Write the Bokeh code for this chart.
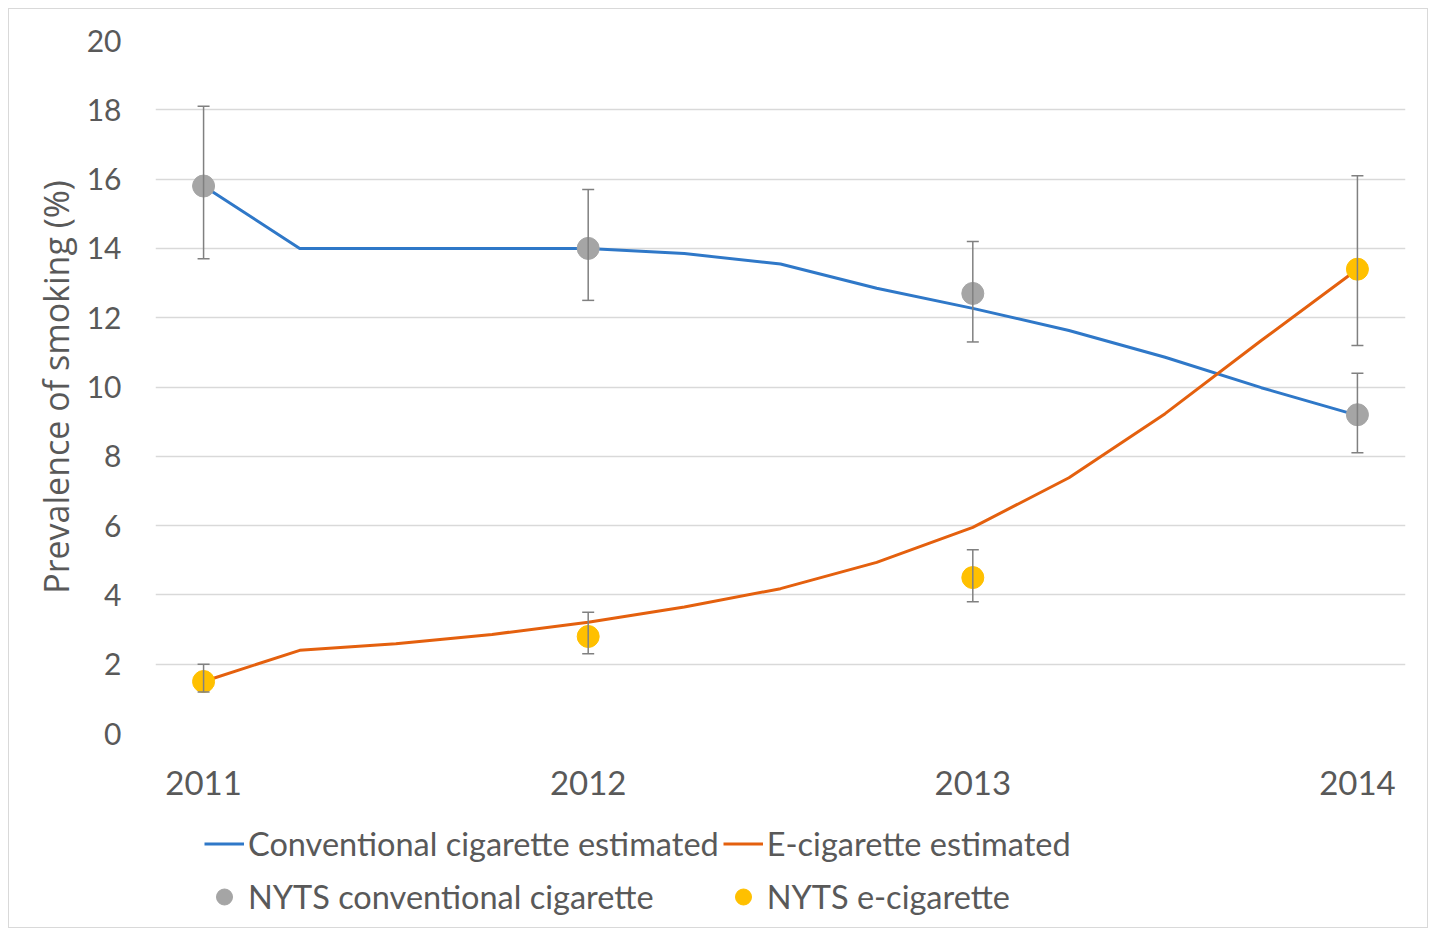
from bokeh.plotting import figure
from bokeh.layouts import column
from bokeh.models import (ColumnDataSource, Whisker, Legend, LegendItem, FixedTicker, TeeHead)
from bokeh.embed import file_html
from bokeh.resources import INLINE

# ---- data ----
years = [2011, 2012, 2013, 2014]
est_time = [2011.0, 2011.25, 2011.5, 2011.75, 2012.0, 2012.25, 2012.5, 2012.75,
            2013.0, 2013.25, 2013.5, 2013.75, 2014.0]
conv_est = [15.8, 14.0, 14.0, 14.0, 14.0, 13.85, 13.55, 12.85, 12.27, 11.63, 10.86, 9.98, 9.18]
ecig_est = [1.5, 2.4, 2.59, 2.86, 3.21, 3.65, 4.18, 4.94, 5.95, 7.38, 9.23, 11.34, 13.4]

nyts_conv = [15.8, 14.0, 12.7, 9.2]
nyts_conv_lo = [13.7, 12.5, 11.3, 8.1]
nyts_conv_hi = [18.1, 15.7, 14.2, 10.4]

nyts_ecig = [1.5, 2.8, 4.5, 13.4]
nyts_ecig_lo = [1.2, 2.3, 3.8, 11.2]
nyts_ecig_hi = [2.0, 3.5, 5.3, 16.1]

y_ticks = [0, 2, 4, 6, 8, 10, 12, 14, 16, 18, 20]

labels = ["Conventional cigarette estimated", "E-cigarette estimated",
          "NYTS conventional cigarette", "NYTS e-cigarette"]

TXT = "#595959"
TICK_FONT = "Lato"
C_CONV = "#2F78C8"
C_ECIG = "#E4600E"
C_PCONV = "#A5A5A5"
C_PECIG = "#FFC000"

# ---------------- main chart ----------------
p = figure(width=1418, height=810, output_backend="svg", toolbar_location=None,
           x_range=(2010.875, 2014.125), y_range=(0, 20),
           min_border_left=146, min_border_right=22, min_border_top=31, min_border_bottom=86)
p.background_fill_color = "white"
p.border_fill_color = "white"
p.outline_line_color = None

p.xgrid.visible = False
p.ygrid.grid_line_color = "#D9D9D9"
p.ygrid.grid_line_width = 1.3
p.ygrid.ticker = FixedTicker(ticks=y_ticks)

p.xaxis.ticker = FixedTicker(ticks=years)
p.xaxis.axis_line_color = None
p.xaxis.major_tick_line_color = None
p.xaxis.minor_tick_line_color = None
p.xaxis.major_label_text_font = TICK_FONT
p.xaxis.major_label_text_font_size = "33px"
p.xaxis.major_label_text_color = TXT
p.xaxis.major_label_standoff = 31

p.yaxis.ticker = FixedTicker(ticks=y_ticks)
p.yaxis.axis_line_color = None
p.yaxis.major_tick_line_color = None
p.yaxis.minor_tick_line_color = None
p.yaxis.major_label_text_font = TICK_FONT
p.yaxis.major_label_text_font_size = "30px"
p.yaxis.major_label_text_color = TXT
p.yaxis.major_label_standoff = 28
p.yaxis.axis_label = "Prevalence of smoking (%)"
p.yaxis.axis_label_text_font = "Open Sans"
p.yaxis.axis_label_text_font_size = "34px"
p.yaxis.axis_label_text_font_style = "normal"
p.yaxis.axis_label_text_color = TXT
p.yaxis.axis_label_standoff = 5

src_est = ColumnDataSource(dict(t=est_time, conv=conv_est, ecig=ecig_est))
p.line("t", "conv", source=src_est, line_color=C_CONV, line_width=3)
p.line("t", "ecig", source=src_est, line_color=C_ECIG, line_width=3)

src_conv = ColumnDataSource(dict(x=years, y=nyts_conv, lo=nyts_conv_lo, hi=nyts_conv_hi))
src_ecig = ColumnDataSource(dict(x=years, y=nyts_ecig, lo=nyts_ecig_lo, hi=nyts_ecig_hi))
for s in (src_conv, src_ecig):
    w = Whisker(base="x", lower="lo", upper="hi", source=s, level="glyph",
                line_color="#808080", line_width=1.5,
                upper_head=TeeHead(size=12, line_color="#808080", line_width=1.5),
                lower_head=TeeHead(size=12, line_color="#808080", line_width=1.5))
    p.add_layout(w)

p.scatter("x", "y", source=src_conv, size=22, fill_color=C_PCONV, line_color=C_PCONV)
p.scatter("x", "y", source=src_ecig, size=22, fill_color=C_PECIG, line_color=C_PECIG)

# ---------------- legend strip ----------------
lg = figure(width=1418, height=108, output_backend="svg", toolbar_location=None,
            x_range=(0, 1418), y_range=(0, 108),
            min_border_left=0, min_border_right=0, min_border_top=0, min_border_bottom=0)
lg.axis.visible = False
lg.grid.visible = False
lg.outline_line_color = None
lg.background_fill_color = "white"
lg.border_fill_color = "white"

far = ColumnDataSource(dict(x=[-100, -90], y=[-100, -100]))
l1 = lg.line("x", "y", source=far, line_color=C_CONV, line_width=3)
l2 = lg.line("x", "y", source=far, line_color=C_ECIG, line_width=3)
l3 = lg.scatter("x", "y", source=far, fill_color=C_PCONV, line_color=C_PCONV)
l4 = lg.scatter("x", "y", source=far, fill_color=C_PECIG, line_color=C_PECIG)

legend = Legend(items=[LegendItem(label=labels[0], renderers=[l1]),
                       LegendItem(label=labels[1], renderers=[l2]),
                       LegendItem(label=labels[2], renderers=[l3]),
                       LegendItem(label=labels[3], renderers=[l4])],
                location=(49, 6), orientation="horizontal", ncols=2,
                glyph_width=40, glyph_height=49, label_height=49, label_standoff=4,
                label_text_font=TICK_FONT, label_text_font_size="32.5px",
                label_text_color=TXT, padding=0, margin=0, spacing=4,
                border_line_alpha=0, background_fill_alpha=0)
lg.add_layout(legend, "center")

layout = column(p, lg, styles={"margin-left": "8px", "margin-top": "8px",
                               "border": "1.5px solid #D9D9D9"})

open("out.html", "w").write(file_html(layout, INLINE))
